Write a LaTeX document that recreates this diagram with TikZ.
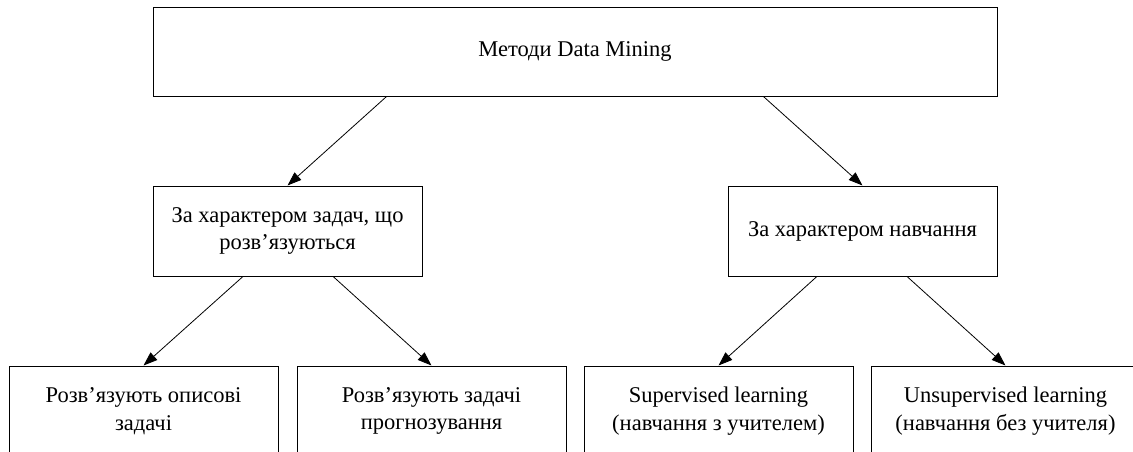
\documentclass[tikz,border=0pt]{standalone}
\usepackage{fontspec}
\setmainfont{Liberation Serif}
\usetikzlibrary{arrows.meta,calc}
\begin{document}
\begin{tikzpicture}[x=1pt,y=-1pt,
  box/.style={draw,line width=1pt,minimum width=269pt,minimum height=90pt,
    align=center,inner sep=0pt,font=\fontsize{22.5}{27.5}\selectfont},
  link/.style={line width=0.8pt,-{Triangle[length=14pt,width=10pt]}}]
  \useasboundingbox (0,0) rectangle (1133,451);

  % root
  \node[box,minimum width=844pt,minimum height=89pt] (root) at (575,51.5) {Методи Data Mining};

  % classification criteria
  \node[box] (tasks) at (287.5,231) {За характером задач, що\\розв’язуються};
  \node[box] (learn) at (862.5,231) {За характером навчання};

  % leaves (run past the lower edge of the page)
  \node[box] (descr) at (143.5,411) {Розв’язують описові\\задачі};
  \node[box] (pred)  at (431.5,411) {Розв’язують задачі\\прогнозування};
  \node[box] (sup)   at (718.5,411) {Supervised learning\\(навчання з учителем)};
  \node[box] (unsup) at (1005.5,411) {Unsupervised learning\\(навчання без учителя)};

  % connectors
  \draw[link] ($(root.south west)!0.277!(root.south east)$) -- (tasks.north);
  \draw[link] ($(root.south west)!0.723!(root.south east)$) -- (learn.north);
  \draw[link] ($(tasks.south west)!0.335!(tasks.south east)$) -- (descr.north);
  \draw[link] ($(tasks.south west)!0.669!(tasks.south east)$) -- (pred.north);
  \draw[link] ($(learn.south west)!0.331!(learn.south east)$) -- (sup.north);
  \draw[link] ($(learn.south west)!0.665!(learn.south east)$) -- (unsup.north);
\end{tikzpicture}
\end{document}
